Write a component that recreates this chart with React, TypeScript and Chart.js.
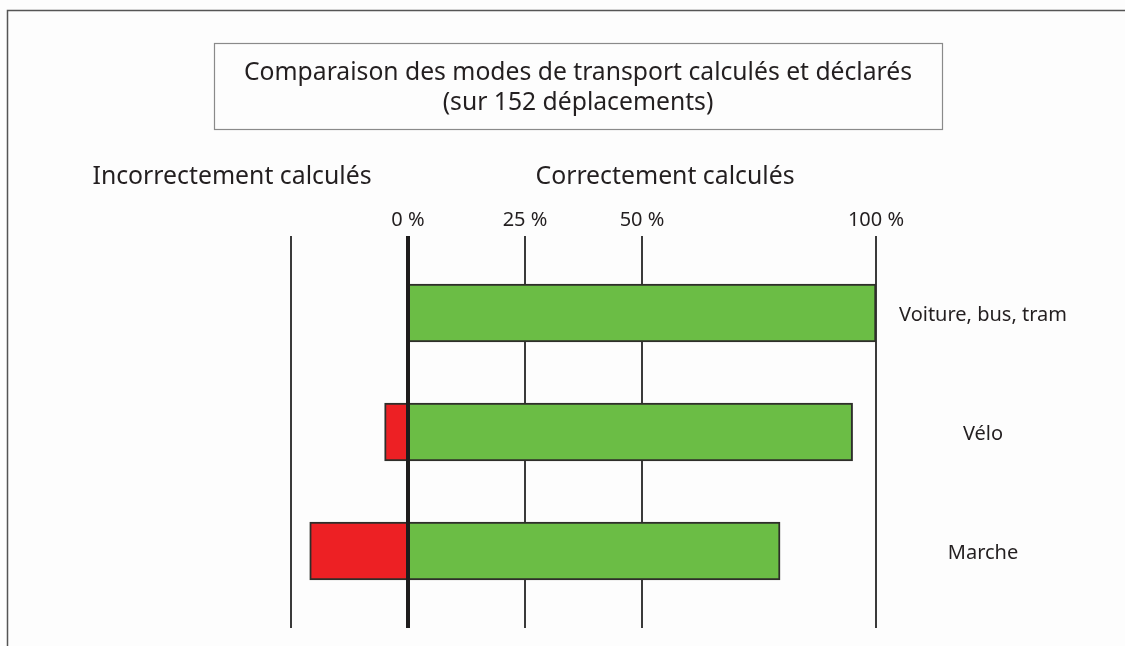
import React, { useEffect, useRef } from 'react';
import { Chart, registerables } from 'chart.js';

Chart.register(...registerables);

const categories = ['Voiture, bus, tram', 'Vélo', 'Marche'];
const correct = [100, 95, 79.5];
const incorrect = [0, -5, -21];
const gridValues = [-25, 25, 50, 100];
const zeroValue = 0;
const tickValues = [0, 25, 50, 100];
const tickLabels = ['0 %', '25 %', '50 %', '100 %'];
const titleLines = ['Comparaison des modes de transport calculés et déclarés', '(sur 152 déplacements)'];
const leftHeader = 'Incorrectement calculés';
const rightHeader = 'Correctement calculés';

const FONT = '"Noto Sans", "Open Sans", sans-serif';
const TEXT = '#231f20';

const decorPlugin = {
  id: 'decor',
  beforeDatasetsDraw(chart: any) {
    const ctx = chart.ctx;
    const xs = chart.scales.x;
    ctx.save();
    ctx.strokeStyle = '#3a3a3a';
    ctx.lineWidth = 2;
    gridValues.forEach((v) => {
      const x = Math.round(xs.getPixelForValue(v));
      ctx.beginPath();
      ctx.moveTo(x, 236);
      ctx.lineTo(x, 628);
      ctx.stroke();
    });
    ctx.restore();
  },
  afterDatasetsDraw(chart: any) {
    const ctx = chart.ctx;
    const xs = chart.scales.x;
    ctx.save();
    ctx.strokeStyle = '#1e1c1c';
    ctx.lineWidth = 4;
    const x = Math.round(xs.getPixelForValue(zeroValue));
    ctx.beginPath();
    ctx.moveTo(x, 236);
    ctx.lineTo(x, 628);
    ctx.stroke();
    ctx.restore();
  },
  afterDraw(chart: any) {
    const ctx = chart.ctx;
    const xs = chart.scales.x;
    const ys = chart.scales.y;
    ctx.save();
    // outer frame (top + left)
    ctx.strokeStyle = '#555';
    ctx.lineWidth = 1.5;
    ctx.beginPath();
    ctx.moveTo(7.5, 646);
    ctx.lineTo(7.5, 10.5);
    ctx.lineTo(1125, 10.5);
    ctx.stroke();
    // title box
    ctx.strokeStyle = '#8a8a8a';
    ctx.lineWidth = 1.2;
    ctx.strokeRect(214.5, 43.5, 728, 86);
    ctx.fillStyle = TEXT;
    ctx.textAlign = 'center';
    ctx.textBaseline = 'middle';
    ctx.font = `24.7px ${FONT}`;
    ctx.fillText(titleLines[0], 578, 73);
    ctx.fillText(titleLines[1], 578, 103);
    // headers
    ctx.font = `24.8px ${FONT}`;
    ctx.fillText(leftHeader, 232, 177);
    ctx.fillText(rightHeader, 665, 177);
    // tick labels
    ctx.font = `20px ${FONT}`;
    tickValues.forEach((v, i) => {
      ctx.fillText(tickLabels[i], xs.getPixelForValue(v), 220);
    });
    // category labels
    ctx.font = `20px ${FONT}`;
    categories.forEach((c, i) => {
      ctx.fillText(c, 983, ys.getPixelForValue(i) + 2);
    });
    ctx.restore();
  },
};

export default function App() {
  const ref = useRef<HTMLCanvasElement | null>(null);
  useEffect(() => {
    if (!ref.current) return;
    const chart = new Chart(ref.current, {
      type: 'bar',
      data: {
        labels: categories,
        datasets: [
          {
            label: 'Correctement calculés',
            data: correct,
            backgroundColor: '#6bbd45',
            borderColor: '#2e2e2a',
            borderWidth: 2,
            borderSkipped: false,
            barThickness: 58,
          },
          {
            label: 'Incorrectement calculés',
            data: incorrect,
            backgroundColor: '#ed2024',
            borderColor: '#2e2e2a',
            borderWidth: 2,
            borderSkipped: false,
            barThickness: 58,
          },
        ],
      },
      options: {
        indexAxis: 'y',
        responsive: false,
        animation: false,
        layout: { padding: { left: 291, right: 249, top: 253.5, bottom: 35.5 } },
        plugins: { legend: { display: false }, tooltip: { enabled: false }, title: { display: false } },
        scales: {
          x: { type: 'linear', min: -25, max: 100, stacked: true, display: false },
          y: { type: 'category', stacked: true, display: false, offset: true },
        },
      },
      plugins: [decorPlugin],
    });
    return () => chart.destroy();
  }, []);
  return (
    <div style={{ position: 'fixed', left: 0, top: 0, width: 1125, height: 646, background: '#fdfdfd' }}>
      <canvas ref={ref} width={1125} height={646} style={{ display: 'block' }} />
    </div>
  );
}
